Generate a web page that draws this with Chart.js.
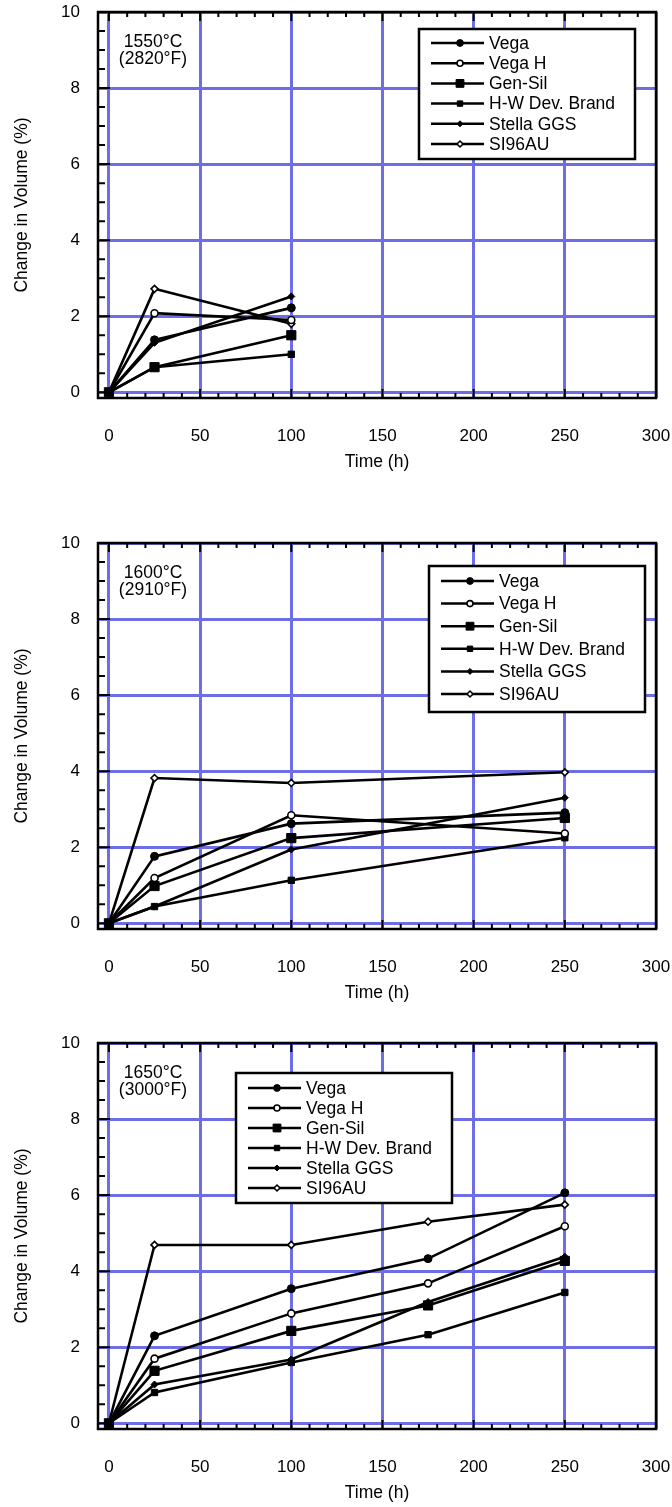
<!DOCTYPE html>
<html>
<head>
<meta charset="utf-8">
<title>Change in Volume vs Time</title>
<script src="https://cdn.jsdelivr.net/npm/chart.js@4/dist/chart.umd.min.js"></script>
<style>
  body { margin: 0; background: #fff; overflow: hidden; }
  canvas { position: absolute; left: 0; }
</style>
</head>
<body>
<canvas id="chart1550" width="672" height="480" style="top:0px"></canvas>
<canvas id="chart1600" width="672" height="480" style="top:531px"></canvas>
<canvas id="chart1650" width="672" height="480" style="top:1031px"></canvas>
<script>
// Data
const seriesNames = ["Vega", "Vega H", "Gen-Sil", "H-W Dev. Brand", "Stella GGS", "SI96AU"];
const xTicks = [0, 50, 100, 150, 200, 250, 300];
const yTicks = [0, 2, 4, 6, 8, 10];

// 1550°C
const time1550 = [0, 25, 100];
const vega1550 = [0, 1.38, 2.22];
const vegaH1550 = [0, 2.08, 1.90];
const genSil1550 = [0, 0.66, 1.50];
const hw1550 = [0, 0.66, 1.00];
const stella1550 = [0, 1.30, 2.52];
const si96_1550 = [0, 2.72, 1.80];

// 1600°C
const time1600 = [0, 25, 100, 250];
const vega1600 = [0, 1.76, 2.62, 2.91];
const vegaH1600 = [0, 1.19, 2.84, 2.36];
const genSil1600 = [0, 0.98, 2.24, 2.77];
const hw1600 = [0, 0.44, 1.13, 2.25];
const stella1600 = [0, 0.44, 1.94, 3.30];
const si96_1600 = [0, 3.82, 3.69, 3.97];

// 1650°C
const time1650 = [0, 25, 100, 175, 250];
const vega1650 = [0, 2.30, 3.54, 4.33, 6.06];
const vegaH1650 = [0, 1.70, 2.89, 3.68, 5.18];
const genSil1650 = [0, 1.38, 2.43, 3.10, 4.27];
const hw1650 = [0, 0.81, 1.60, 2.33, 3.44];
const stella1650 = [0, 1.02, 1.68, 3.19, 4.38];
const si96_1650 = [0, 4.69, 4.69, 5.30, 5.75];

// Marker styles (same order as seriesNames)
const markers = [
  { style: "circle", r: 4, fill: "#000", bw: 1 },
  { style: "circle", r: 3.5, fill: "#fff", bw: 1.6 },
  { style: "rect", r: 6.5, fill: "#000", bw: 1 },
  { style: "rect", r: 4.5, fill: "#000", bw: 1 },
  { style: "rectRot", r: 3.5, fill: "#000", bw: 1 },
  { style: "rectRot", r: 3.5, fill: "#fff", bw: 1.6 }
];

const FONT = "'Liberation Sans', Arial, Helvetica, sans-serif";
const gridBlue = "#6d6de8";
Chart.defaults.font.family = FONT;
Chart.defaults.color = "#000";

function makeDatasets(times, seriesList) {
  return seriesList.map((vals, i) => ({
    label: seriesNames[i],
    data: times.map((t, k) => ({ x: t, y: vals[k] })),
    borderColor: "#000",
    borderWidth: 2.6,
    pointStyle: markers[i].style,
    pointRadius: markers[i].r,
    pointBackgroundColor: markers[i].fill,
    pointBorderColor: "#000",
    pointBorderWidth: markers[i].bw,
    tension: 0
  }));
}

// frame + minor ticks
const frameTicks = {
  id: "frameTicks",
  beforeDatasetsDraw(chart) {
    const { ctx, chartArea: a, scales: { x, y } } = chart;
    ctx.save();
    ctx.strokeStyle = "#000";
    ctx.lineWidth = 2;
    ctx.beginPath();
    for (let v = 0; v <= xTicks[xTicks.length - 1]; v += 10) {
      const px = x.getPixelForValue(v);
      const len = v % 50 === 0 ? 9 : 5;
      ctx.moveTo(px, a.bottom); ctx.lineTo(px, a.bottom - len);
      ctx.moveTo(px, a.top); ctx.lineTo(px, a.top + len);
    }
    for (let v = 0; v <= yTicks[yTicks.length - 1]; v += 0.5) {
      const py = y.getPixelForValue(v);
      const len = v % 2 === 0 ? 12 : 7;
      ctx.moveTo(a.left, py); ctx.lineTo(a.left + len, py);
    }
    ctx.stroke();
    ctx.lineWidth = 2.5;
    ctx.strokeRect(a.left, a.top, a.right - a.left, a.bottom - a.top);
    ctx.restore();
  }
};

// boxed legend
const boxLegend = {
  id: "boxLegend",
  afterDraw(chart, args, o) {
    const ctx = chart.ctx;
    ctx.save();
    ctx.fillStyle = "#fff";
    ctx.fillRect(o.x, o.y, o.w, o.h);
    ctx.strokeStyle = "#000";
    ctx.lineWidth = 2.5;
    ctx.strokeRect(o.x, o.y, o.w, o.h);
    ctx.font = "17.5px " + FONT;
    ctx.textBaseline = "middle";
    chart.data.datasets.forEach((ds, i) => {
      const ry = o.y + o.first + i * o.gap;
      ctx.strokeStyle = "#000";
      ctx.lineWidth = 2.5;
      ctx.beginPath();
      ctx.moveTo(o.x + 12, ry);
      ctx.lineTo(o.x + 65, ry);
      ctx.stroke();
      ctx.fillStyle = ds.pointBackgroundColor;
      ctx.lineWidth = ds.pointBorderWidth;
      Chart.helpers.drawPoint(ctx, {
        pointStyle: ds.pointStyle, radius: ds.pointRadius * 0.85, rotation: 0, borderWidth: ds.pointBorderWidth
      }, o.x + 41, ry);
      ctx.fillStyle = "#000";
      ctx.fillText(ds.label, o.x + 70, ry + 1);
    });
    ctx.restore();
  }
};

// temperature label
const tempLabel = {
  id: "tempLabel",
  afterDraw(chart, args, o) {
    const ctx = chart.ctx;
    ctx.save();
    ctx.font = "17.5px " + FONT;
    ctx.fillStyle = "#000";
    ctx.textAlign = "center";
    ctx.textBaseline = "middle";
    o.lines.forEach((t, i) => ctx.fillText(t, 153, 42 + i * 17.5));
    ctx.restore();
  }
};

function buildChart(id, times, seriesList, legendBox, tempLines) {
  const canvas = document.getElementById(id);
  if (!canvas) return;
  new Chart(canvas.getContext("2d"), {
    type: "line",
    data: { datasets: makeDatasets(times, seriesList) },
    options: {
      responsive: false,
      animation: false,
      devicePixelRatio: 1,
      layout: { padding: { top: 12, right: 16, bottom: 0, left: 0 } },
      plugins: {
        legend: { display: false },
        tooltip: { enabled: false },
        boxLegend: legendBox,
        tempLabel: { lines: tempLines }
      },
      scales: {
        x: {
          type: "linear",
          min: -6,
          max: 300,
          afterBuildTicks: s => { s.ticks = xTicks.map(v => ({ value: v })); },
          afterFit: s => { s.height = 82; s.paddingLeft = 0; s.paddingRight = 0; },
          grid: { color: gridBlue, lineWidth: 3, drawTicks: false },
          border: { display: false },
          ticks: { padding: 28, autoSkip: false, maxRotation: 0, font: { size: 17 }, color: "#000" },
          title: { display: true, text: "Time (h)", font: { size: 17.5 }, color: "#000", padding: { top: 0, bottom: 7 } }
        },
        y: {
          min: -0.15,
          max: 10,
          afterBuildTicks: s => { s.ticks = yTicks.map(v => ({ value: v })); },
          afterFit: s => { s.width = 98; s.paddingTop = 0; s.paddingBottom = 0; },
          grid: { color: gridBlue, lineWidth: 3, drawTicks: false },
          border: { display: false },
          ticks: { padding: 18, font: { size: 17 }, color: "#000" },
          title: { display: true, text: "Change in Volume (%)", font: { size: 17.5 }, color: "#000", padding: { top: 12, bottom: 0 } }
        }
      }
    },
    plugins: [frameTicks, boxLegend, tempLabel]
  });
}

buildChart("chart1550", time1550,
  [vega1550, vegaH1550, genSil1550, hw1550, stella1550, si96_1550],
  { x: 419, y: 29, w: 216, h: 130, first: 14, gap: 20.2 },
  ["1550°C", "(2820°F)"]);

buildChart("chart1600", time1600,
  [vega1600, vegaH1600, genSil1600, hw1600, stella1600, si96_1600],
  { x: 429, y: 35, w: 216, h: 146, first: 15, gap: 22.6 },
  ["1600°C", "(2910°F)"]);

buildChart("chart1650", time1650,
  [vega1650, vegaH1650, genSil1650, hw1650, stella1650, si96_1650],
  { x: 236, y: 42, w: 216, h: 130, first: 15, gap: 20 },
  ["1650°C", "(3000°F)"]);
</script>
</body>
</html>
